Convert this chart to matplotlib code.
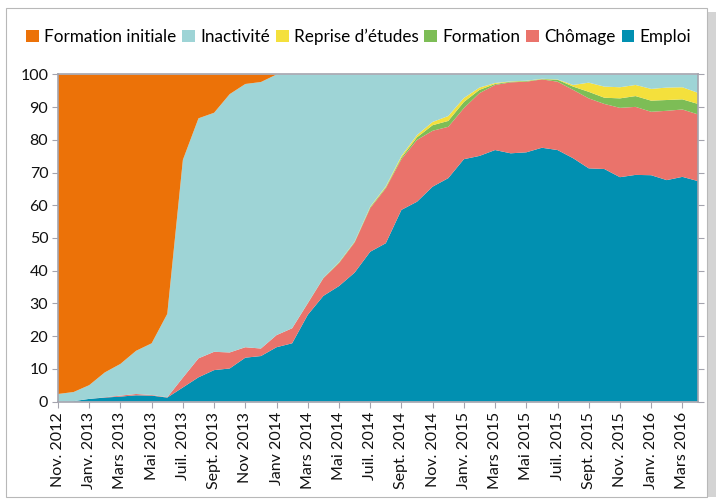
import numpy as np
import matplotlib.pyplot as plt
from matplotlib.patches import Patch, Rectangle

# monthly values, Nov. 2012 -> Apr. 2016 (42 months), percentages
months = np.arange(42)

emploi = [0, 0.1, 0.8, 1.2, 1.5, 1.9, 1.8, 1.2, 4.3, 7.4,
          9.6, 10.1, 13.4, 13.9, 16.6, 17.8, 26.5, 32.3, 35.3, 39.4,
          45.8, 48.4, 58.6, 61.1, 65.7, 68.3, 74.1, 75.1, 76.9, 75.9,
          76.2, 77.6, 76.9, 74.4, 71.3, 71.1, 68.6, 69.3, 69.2, 67.7, 68.7, 67.4]
chomage = [0, 0, 0, 0.1, 0.3, 0.4, 0.2, 0.1, 3.0, 5.8,
           5.6, 4.9, 3.2, 2.3, 3.7, 4.6, 3.5, 5.4, 7.0, 9.2,
           13.3, 16.8, 15.5, 18.9, 17.1, 15.7, 15.6, 19.2, 19.9, 21.7,
           21.6, 20.9, 20.9, 20.9, 21.4, 19.9, 21.2, 20.8, 19.4, 21.2, 20.6, 20.4]
formation = [0, 0, 0, 0, 0, 0, 0, 0, 0, 0,
             0, 0, 0, 0, 0, 0, 0.1, 0.1, 0.2, 0.2,
             0.3, 0.3, 0.5, 0.8, 1.7, 1.8, 1.9, 1.0, 0.3, 0.2,
             0.2, 0.1, 0.6, 1.0, 2.0, 1.9, 2.9, 3.3, 3.4, 3.3, 3.1, 3.2]
reprise = [0, 0, 0, 0, 0, 0, 0, 0, 0, 0,
           0, 0, 0, 0, 0, 0, 0, 0, 0.1, 0.1,
           0.2, 0.3, 0.5, 0.7, 1.0, 1.5, 1.2, 0.7, 0.3, 0.1,
           0.1, 0.1, 0.1, 0.5, 2.8, 3.4, 3.4, 3.4, 3.6, 3.8, 3.7, 3.4]
inactivite = [2.3, 2.8, 4.2, 7.6, 9.7, 13.2, 15.8, 25.5, 66.6, 73.4,
              73.1, 79.0, 80.5, 81.5, 79.7, 77.6, 69.9, 62.2, 57.4, 51.1,
              40.4, 34.2, 24.9, 18.5, 14.5, 12.7, 7.2, 4.0, 2.6, 2.1,
              1.9, 1.3, 1.5, 3.2, 2.5, 3.7, 3.9, 3.2, 4.4, 4.0, 3.9, 5.6]
formation_initiale = [97.7, 97.1, 95.0, 91.1, 88.5, 84.5, 82.2, 73.2, 26.1, 13.4,
                      11.7, 6.0, 2.9, 2.3, 0, 0, 0, 0, 0, 0,
                      0, 0, 0, 0, 0, 0, 0, 0, 0, 0,
                      0, 0, 0, 0, 0, 0, 0, 0, 0, 0, 0, 0]

tick_pos = list(range(0, 42, 2))
tick_labels = ["Nov. 2012", "Janv. 2013", "Mars 2013", "Mai 2013", "Juil. 2013",
               "Sept. 2013", "Nov 2013", "Janv 2014", "Mars 2014", "Mai 2014",
               "Juil. 2014", "Sept. 2014", "Nov. 2014", "Janv. 2015", "Mars 2015",
               "Mai 2015", "Juil. 2015", "Sept. 2015", "Nov. 2015", "Janv. 2016",
               "Mars 2016"]

names = ["Emploi", "Chômage", "Formation", "Reprise d’études", "Inactivité",
         "Formation initiale"]
colors = ["#0190B1", "#EA736B", "#7DBD56", "#F4E03C", "#9ED4D6", "#EC7208"]

plt.rcParams["font.family"] = ["Lato", "DejaVu Sans"]
axis_gray = "#a4a4ae"

fig = plt.figure(figsize=(7.19, 5.01), dpi=100)

# frame around the picture, with a little shadow on the right
fig.patches.append(Rectangle((707 / 719, 4 / 501), 9 / 719, 485 / 501,
                             transform=fig.transFigure, facecolor="#d4d4d4",
                             edgecolor="none", zorder=-2))
fig.patches.append(Rectangle((6 / 719, 4 / 501), 701 / 719, 489 / 501,
                             transform=fig.transFigure, facecolor="white",
                             edgecolor="#b8b8b8", linewidth=0.8, zorder=-1))

ax = fig.add_axes([58 / 719, 1 - 401.5 / 501, 640 / 719, 327 / 501])
ax.set_zorder(2)

ax.stackplot(months, emploi, chomage, formation, reprise, inactivite,
             formation_initiale, colors=colors, linewidth=0)

ax.set_xlim(0, 41)
ax.set_ylim(0, 100)
ax.set_yticks(range(0, 101, 10))
ax.set_xticks(tick_pos)
ax.set_xticklabels(tick_labels, rotation=90)
ax.tick_params(axis="both", labelsize=11.5, color=axis_gray, length=4,
               labelcolor="#111111")
ax.tick_params(axis="y", right=True, pad=3)
for s in ax.spines.values():
    s.set_color(axis_gray)
    s.set_linewidth(1.2)

handles = [Patch(facecolor=c, edgecolor="none") for c in colors[::-1]]
leg = fig.legend(handles, names[::-1], loc="center",
                 bbox_to_anchor=(358.5 / 719, 1 - 37 / 501), ncol=6, frameon=False,
                 fontsize=12.3, handlelength=0.75, handleheight=0.75,
                 handletextpad=0.3, columnspacing=0.35)
leg.set_zorder(3)

fig.savefig("out.png", dpi=100)
